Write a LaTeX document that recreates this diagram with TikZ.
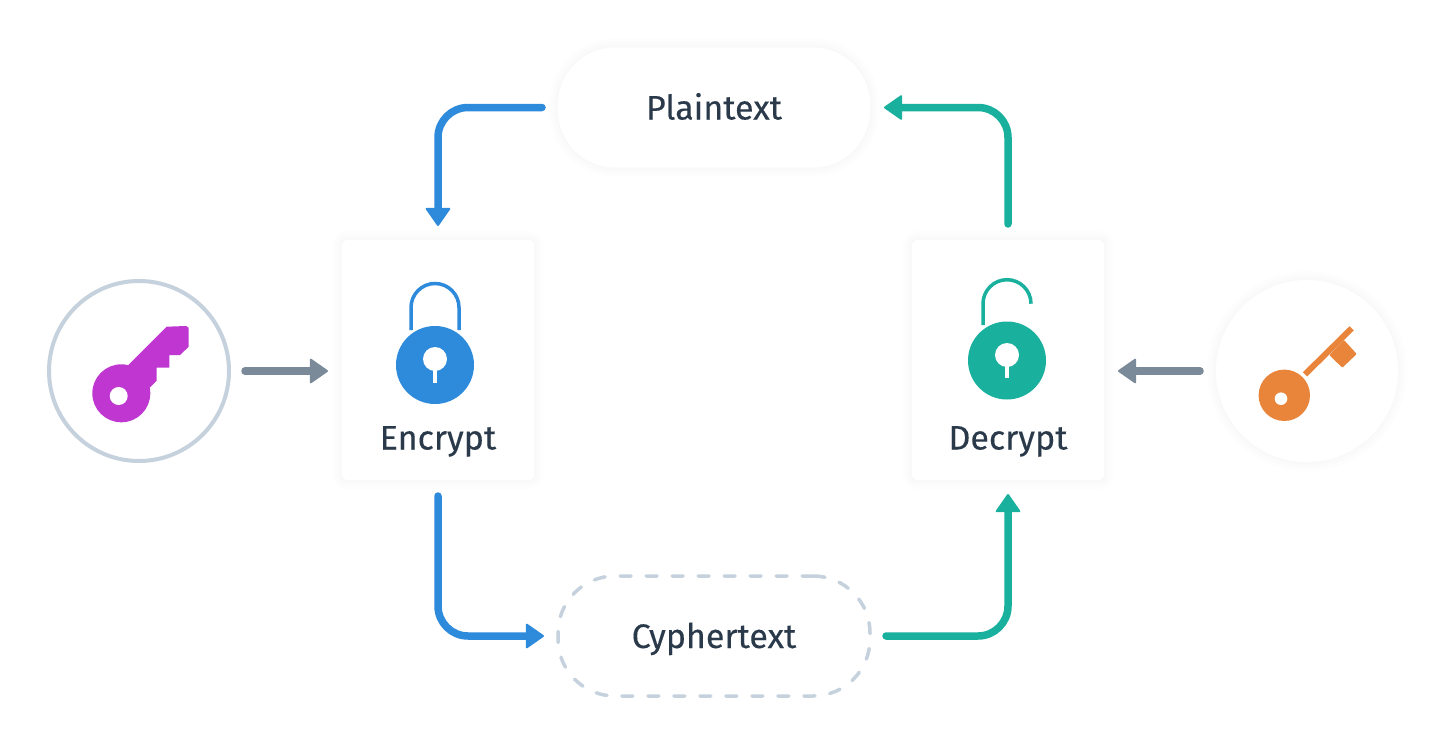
\documentclass[tikz,border=0pt]{standalone}
\usepackage{fontspec}
\setmainfont[FakeBold=0.25]{Fira Sans}
\usetikzlibrary{arrows.meta, positioning, calc}

\definecolor{encblue}{HTML}{2E8ADB}
\definecolor{decgreen}{HTML}{1AB09E}
\definecolor{pathgrey}{HTML}{7B8A99}
\definecolor{edgegrey}{HTML}{C5D1DC}
\definecolor{inkdark}{HTML}{2A3A4A}
\definecolor{keypurple}{HTML}{BF36D1}
\definecolor{keyorange}{HTML}{E9853B}

\begin{document}
\begin{tikzpicture}[
    x=1pt, y=-1pt,
    softshadow/.style={
      preaction={draw=black, draw opacity=.007, line width=18pt, yshift=-3pt},
      preaction={draw=black, draw opacity=.008, line width=11pt, yshift=-3pt},
      preaction={draw=black, draw opacity=.009, line width=5pt, yshift=-2pt}
    },
    opbox/.style={
      rectangle, rounded corners=5pt, fill=white, softshadow,
      outer sep=0pt, minimum width=192pt, minimum height=240pt
    },
    textpill/.style={
      rectangle, rounded corners=57pt, outer sep=0pt,
      minimum width=312pt, minimum height=120pt,
      text height=24pt, text depth=0pt,
      text=inkdark, font=\fontsize{34}{40}\selectfont
    },
    keydisc/.style={circle, outer sep=0pt, fill=white},
    lbl/.style={anchor=base, text=inkdark, inner sep=0pt, font=\fontsize{34}{40}\selectfont},
    arr/.style={
      -{Triangle[length=19pt, width=26pt, line width=2pt, round]},
      line width=7.5pt, line cap=round, rounded corners=30pt,
      shorten <=16pt, shorten >=14pt
    },
    shackle/.style={line width=3.5pt},
  ]
  \useasboundingbox (0,0) rectangle (1446,744);
  \fill[white] (0,0) rectangle (1446,744);

  % Boxes and pills
  \node[opbox] (enc) at (438,360) {};
  \node[opbox] (dec) at (1008,360) {};
  \node[textpill, fill=white, softshadow] (plain) at (714,107.5) {Plaintext};
  \node[textpill, draw=edgegrey, line width=3.5pt, line cap=round, dash pattern=on 11pt off 15pt] (cypher) at (714,636) {Cyphertext};
  \node[lbl] (enclbl) at (438,449.5) {Encrypt};
  \node[lbl] (declbl) at (1008,449.5) {Decrypt};

  % Key discs
  \node[keydisc, draw=edgegrey, line width=4pt, minimum size=180pt] (pubkey) at (139,371) {};
  \node[keydisc, softshadow, minimum size=182pt] (privkey) at (1307,371) {};

  % Cycle arrows
  \draw[arr, encblue] (plain.west) -| (enc.north);
  \draw[arr, encblue] (enc.south) |- (cypher.west);
  \draw[arr, decgreen] (cypher.east) -| (dec.south);
  \draw[arr, decgreen] (dec.north) |- (plain.east);

  % Key arrows
  \draw[arr, pathgrey] (pubkey.east) -- (pubkey.east -| enc.west);
  \draw[arr, pathgrey] (privkey.west) -- (privkey.west -| dec.east);

  % Closed lock
  \draw[shackle, encblue] (411,330) -- (411,307.5) arc[start angle=180, end angle=360, x radius=24pt, y radius=-24pt] -- (459,330);
  \fill[encblue] (435,365) circle[radius=39pt];
  \fill[white] (435,359) circle[radius=12pt];
  \fill[white] (433,365) rectangle (437,382.7);

  % Open lock
  \draw[shackle, decgreen] (983,325) -- (983,303.7) arc[start angle=180, end angle=360, x radius=24pt, y radius=-24pt];
  \fill[decgreen] (1007,360.5) circle[radius=39pt];
  \fill[white] (1007,355) circle[radius=12pt];
  \fill[white] (1005,361) rectangle (1009,378.3);

  % Purple key
  \fill[keypurple] (121.3,393.3) circle[radius=29pt];
  \fill[keypurple] (128.3,365) -- (166.7,326.7) -- (186,326) -- (188.7,327.7) -- (188.7,346.7)
    -- (180,355) -- (169.3,355) -- (169.3,367.7) -- (156.7,367.7) -- (156.7,380.7) -- (150,387.3) -- (125,395) -- cycle;
  \fill[white] (118.7,396) circle[radius=9pt];

  % Orange key
  \fill[keyorange] (1284.3,395.3) circle[radius=25.7pt];
  \fill[white] (1281,398.7) circle[radius=6.3pt];
  \draw[keyorange, line width=6pt] (1305,374.3) -- (1351.7,328.3);
  \fill[keyorange, rounded corners=1pt] (1329.3,355) -- (1342.3,367.7) -- (1356.7,354) -- (1344,340) -- cycle;
\end{tikzpicture}
\end{document}
